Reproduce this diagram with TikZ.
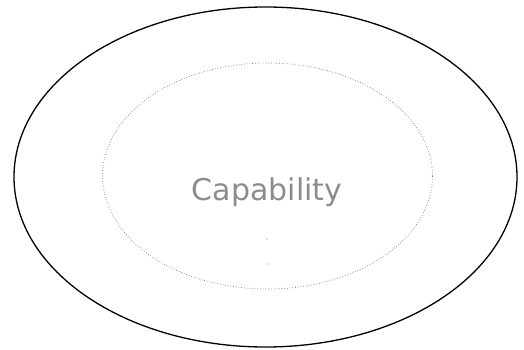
\documentclass[tikz,border=0pt]{standalone}
\usepackage{fontspec}
\setmainfont{DejaVu Sans}
\usetikzlibrary{shapes.geometric}
\begin{document}
\begin{tikzpicture}[x=1pt,y=-1pt,
  outerell/.style={ellipse,draw=black,line width=1.3pt,inner sep=0pt,minimum width=503pt,minimum height=340pt},
  innerell/.style={ellipse,draw=black!55,dotted,line width=0.7pt,inner sep=0pt,minimum width=330pt,minimum height=226pt},
  lbl/.style={text=black!45,font=\fontsize{30}{34}\selectfont,inner sep=0pt,anchor=base},
  speck/.style={circle,fill=black!45,inner sep=0pt,minimum size=1.4pt}]
\useasboundingbox (0,0) rectangle (524,350);
\node[outerell] (outer) at (265.5,177) {};
\node[innerell] (inner) at (267.5,176) {};
\node[lbl] (cap) at (267,200) {Capability};
\node[speck] (d1) at (267,239) {};
\node[speck] (d2) at (267,264) {};
\end{tikzpicture}
\end{document}
